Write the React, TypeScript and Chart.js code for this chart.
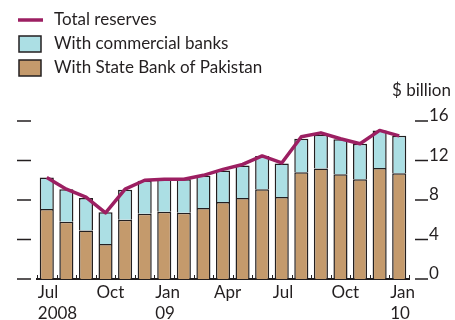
import React, { useEffect, useRef } from "react";
import { Chart, registerables } from "chart.js";

Chart.register(...registerables);

const months = [
  "Jul 2008", "Aug 2008", "Sep 2008", "Oct 2008", "Nov 2008", "Dec 2008",
  "Jan 2009", "Feb 2009", "Mar 2009", "Apr 2009", "May 2009", "Jun 2009",
  "Jul 2009", "Aug 2009", "Sep 2009", "Oct 2009", "Nov 2009", "Dec 2009",
  "Jan 2010",
];
const xTickLabels: (string | string[])[] = [
  ["Jul", "2008"], "", "", ["Oct"], "", "", ["Jan", "09"], "", "", ["Apr"], "", "",
  ["Jul"], "", "", ["Oct"], "", "", ["Jan", "10"],
];
const stateBank = [7.1, 5.8, 4.9, 3.55, 6.0, 6.6, 6.8, 6.7, 7.2, 7.8, 8.2, 9.1, 8.3, 10.8, 11.2, 10.6, 10.1, 11.25, 10.7];
const commercialBanks = [3.17, 3.3, 3.3, 3.2, 3.05, 3.35, 3.3, 3.4, 3.25, 3.2, 3.3, 3.35, 3.4, 3.4, 3.4, 3.55, 3.6, 3.8, 3.8];
const totalReserves = [10.27, 9.1, 8.3, 6.7, 9.1, 10.0, 10.1, 10.1, 10.5, 11.1, 11.6, 12.46, 11.75, 14.4, 14.8, 14.2, 13.7, 15.05, 14.5];
const yTicks = [0, 4, 8, 12, 16];
const unitLabel = "$ billion";

const TEXT = "#231f20";
const TAN = "#c49a6c";
const CYAN = "#acdfe4";
const MAGENTA = "#9c1f62";
const FONT = "Lato";
const FS = 17;

const overlay = {
  id: "overlay",
  afterDraw(chart: any) {
    const { ctx, chartArea, scales } = chart;
    const y = scales.y;
    const x = scales.x;
    ctx.save();
    ctx.strokeStyle = TEXT;
    ctx.lineWidth = 1.3;
    yTicks.forEach((v) => {
      const py = y.getPixelForValue(v);
      ctx.beginPath();
      ctx.moveTo(chartArea.left - 20, py);
      ctx.lineTo(chartArea.left - 6, py);
      ctx.moveTo(chartArea.right + 6, py);
      ctx.lineTo(chartArea.right + 19, py);
      ctx.stroke();
    });
    const n = months.length;
    const step = (x.getPixelForValue(n - 1) - x.getPixelForValue(0)) / (n - 1);
    ctx.lineWidth = 1;
    for (let i = 0; i <= n; i++) {
      const px = Math.round(x.getPixelForValue(0) - step / 2 + i * step) + 0.5;
      ctx.beginPath();
      ctx.moveTo(px, chartArea.bottom);
      ctx.lineTo(px, chartArea.bottom - 4);
      ctx.stroke();
    }
    ctx.fillStyle = TEXT;
    ctx.font = `${FS}px ${FONT}`;
    ctx.textAlign = "right";
    ctx.textBaseline = "middle";
    ctx.fillText(unitLabel, 451, 91);
    const ds = chart.data.datasets;
    ctx.textAlign = "left";
    ctx.strokeStyle = ds[2].borderColor;
    ctx.lineWidth = 3.5;
    ctx.beginPath();
    ctx.moveTo(18, 20);
    ctx.lineTo(43, 20);
    ctx.stroke();
    ctx.fillText(ds[2].label, 54, 20);
    const boxes = [
      { d: ds[1], cy: 44 },
      { d: ds[0], cy: 68 },
    ];
    boxes.forEach(({ d, cy }) => {
      ctx.fillStyle = d.backgroundColor;
      ctx.fillRect(19, cy - 8, 22, 16);
      ctx.strokeStyle = TEXT;
      ctx.lineWidth = 1.5;
      ctx.strokeRect(19, cy - 8, 22, 16);
      ctx.fillStyle = TEXT;
      ctx.fillText(d.label, 54, cy);
    });
    ctx.restore();
  },
};

export default function App() {
  const ref = useRef<HTMLCanvasElement>(null);
  useEffect(() => {
    if (!ref.current) return;
    const chart = new Chart(ref.current, {
      type: "bar",
      data: {
        labels: months,
        datasets: [
          {
            type: "bar",
            label: "With State Bank of Pakistan",
            data: stateBank,
            backgroundColor: TAN,
            borderColor: TEXT,
            borderWidth: 1.5,
            stack: "bars",
            order: 1,
            categoryPercentage: 1,
            barPercentage: 0.72,
          },
          {
            type: "bar",
            label: "With commercial banks",
            data: commercialBanks,
            backgroundColor: CYAN,
            borderColor: TEXT,
            borderWidth: 1.5,
            stack: "bars",
            order: 1,
            categoryPercentage: 1,
            barPercentage: 0.72,
          },
          {
            type: "line",
            label: "Total reserves",
            data: totalReserves,
            borderColor: MAGENTA,
            backgroundColor: MAGENTA,
            borderWidth: 3.5,
            pointRadius: 0,
            tension: 0,
            borderJoinStyle: "round",
            stack: "line",
            order: 0,
          } as any,
        ],
      },
      options: {
        animation: false,
        responsive: true,
        maintainAspectRatio: false,
        layout: { padding: { left: 37, top: 121, right: 0, bottom: 0 } },
        plugins: {
          legend: { display: false },
          tooltip: { enabled: false },
        },
        scales: {
          x: {
            stacked: true,
            grid: { display: false, drawTicks: false },
            border: { display: true, color: TEXT, width: 2 },
            ticks: {
              autoSkip: false,
              maxRotation: 0,
              align: "start",
              labelOffset: -9,
              padding: 3,
              color: TEXT,
              font: { family: FONT, size: FS, lineHeight: 1.25 },
              callback: (_v: any, i: number) => xTickLabels[i],
            },
            afterFit: (s: any) => {
              s.height = 41;
            },
          },
          y: {
            position: "right",
            stacked: true,
            min: 0,
            max: 16,
            grid: { display: false, drawTicks: false },
            border: { display: false },
            ticks: {
              stepSize: 4,
              padding: 20,
              labelOffset: -5,
              color: TEXT,
              font: { family: FONT, size: FS },
            },
            afterFit: (s: any) => {
              s.width = 46;
            },
          },
        },
      },
      plugins: [overlay],
    });
    return () => chart.destroy();
  }, []);
  return (
    <div style={{ position: "fixed", left: 0, top: 0, width: 455, height: 320 }}>
      <canvas ref={ref} />
    </div>
  );
}
